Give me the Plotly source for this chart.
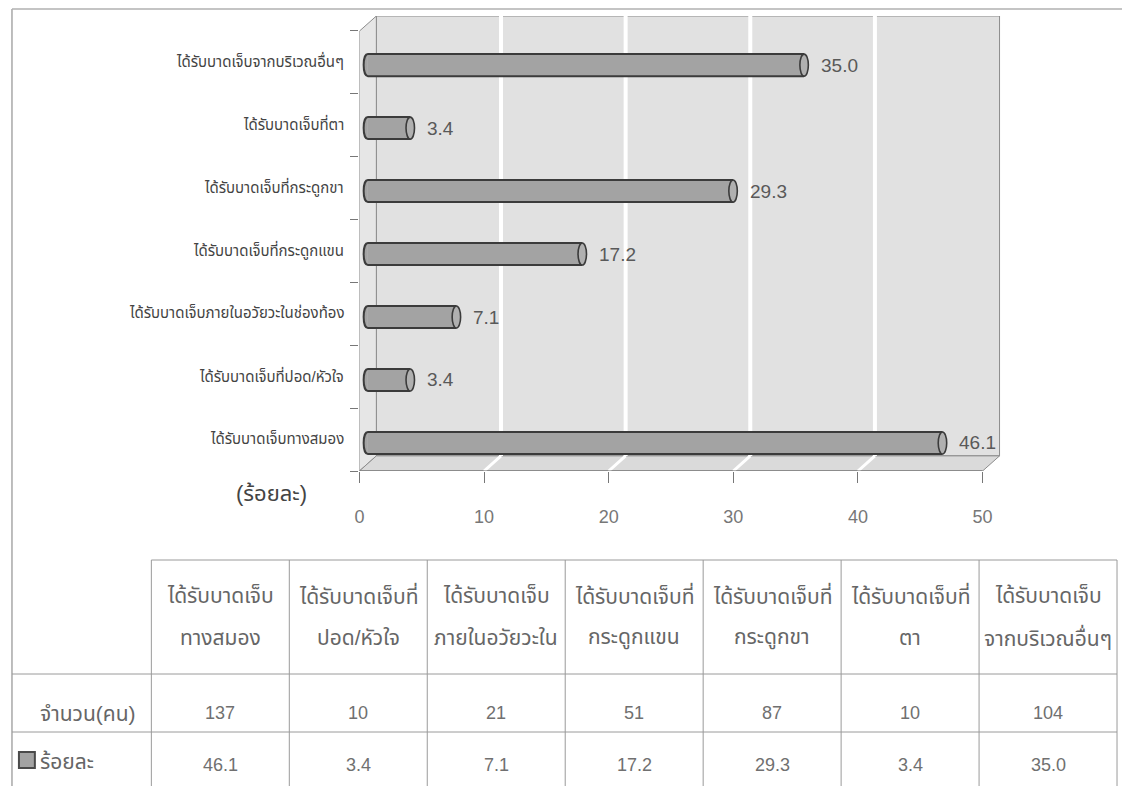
import plotly.graph_objects as go

# ---- data -------------------------------------------------------------
categories = [
    "ได้รับบาดเจ็บทางสมอง",
    "ได้รับบาดเจ็บที่ปอด/หัวใจ",
    "ได้รับบาดเจ็บภายในอวัยวะในช่องท้อง",
    "ได้รับบาดเจ็บที่กระดูกแขน",
    "ได้รับบาดเจ็บที่กระดูกขา",
    "ได้รับบาดเจ็บที่ตา",
    "ได้รับบาดเจ็บจากบริเวณอื่นๆ",
]
percent = [46.1, 3.4, 7.1, 17.2, 29.3, 3.4, 35.0]
counts = [137, 10, 21, 51, 87, 10, 104]
header_line1 = ["ได้รับบาดเจ็บ", "ได้รับบาดเจ็บที่", "ได้รับบาดเจ็บ", "ได้รับบาดเจ็บที่",
                "ได้รับบาดเจ็บที่", "ได้รับบาดเจ็บที่", "ได้รับบาดเจ็บ"]
header_line2 = ["ทางสมอง", "ปอด/หัวใจ", "ภายในอวัยวะใน", "กระดูกแขน",
                "กระดูกขา", "ตา", "จากบริเวณอื่นๆ"]
x_ticks = [0, 10, 20, 30, 40, 50]
row_labels = ["จำนวน(คน)", "ร้อยละ"]
unit_label = "(ร้อยละ)"

# ---- styling / geometry ----------------------------------------------
W, H = 1122, 786
FONT = "Liberation Sans, Arial, Noto Sans Thai, Tahoma, sans-serif"
BAR_FILL = "#a3a3a3"
BAR_EDGE = "#3b3b3b"
CAP_FILL = "#b0b0b0"
WALL = "#e1e1e1"
SIDE = "#e6e6e6"
FLOOR_C = "#dadada"
EDGE = "#8c8c8c"

DX, DY = 0.68, 0.12          # half depth of the 3-D box (value units, category units)
FLOOR, CEIL = -0.325, 6.66   # floor / ceiling of the box on the bar plane
XMAX = 50
HALF_H = 0.175               # half thickness of a cylinder
CAP_A = 0.34                 # half width of the end ellipses

# plot area in pixels
PL, PR, PT, PB = 356, 1001, 16, 471


def px(x):
    return x / W


def py(y):
    return 1 - y / H


idx = list(range(len(categories)))

fig = go.Figure()
fig.add_trace(go.Bar(
    x=percent, y=idx, orientation="h", width=2 * HALF_H,
    marker=dict(color=BAR_FILL, line=dict(width=0)),
    hoverinfo="skip", showlegend=False,
))

shapes = []
# back wall
shapes.append(dict(type="rect", xref="x", yref="y", layer="below",
                   x0=DX, x1=XMAX + DX, y0=FLOOR + DY, y1=CEIL + DY,
                   fillcolor=WALL, line=dict(color=EDGE, width=1)))
# side wall
shapes.append(dict(type="path", xref="x", yref="y", layer="below",
                   path=f"M {-DX},{FLOOR - DY} L {-DX},{CEIL - DY} L {DX},{CEIL + DY} L {DX},{FLOOR + DY} Z",
                   fillcolor=SIDE, line=dict(color=EDGE, width=1)))
# floor
shapes.append(dict(type="path", xref="x", yref="y", layer="below",
                   path=(f"M {-DX},{FLOOR - DY} L {XMAX - DX},{FLOOR - DY} "
                         f"L {XMAX + DX},{FLOOR + DY} L {DX},{FLOOR + DY} Z"),
                   fillcolor=FLOOR_C, line=dict(color=EDGE, width=1)))
# white grid lines on back wall and floor
for t in x_ticks[1:-1]:
    shapes.append(dict(type="line", xref="x", yref="y", layer="below",
                       x0=t + DX, x1=t + DX, y0=FLOOR + DY, y1=CEIL + DY,
                       line=dict(color="white", width=4)))
    shapes.append(dict(type="line", xref="x", yref="y", layer="below",
                       x0=t - DX, x1=t + DX, y0=FLOOR - DY, y1=FLOOR + DY,
                       line=dict(color="white", width=3)))
# front floor edge (value axis line)
shapes.append(dict(type="line", xref="x", yref="y", layer="below",
                   x0=-DX, x1=XMAX - DX, y0=FLOOR - DY, y1=FLOOR - DY,
                   line=dict(color="#666666", width=1.2)))

# cylinders: rounded left end, outline, elliptical right cap
k = 4.0 / 3.0 * CAP_A
for i, v in zip(idx, percent):
    top, bot = i + HALF_H, i - HALF_H
    shapes.append(dict(type="path", xref="x", yref="y", layer="above",
                       path=f"M 0,{top} C {-k},{top} {-k},{bot} 0,{bot} Z",
                       fillcolor=BAR_FILL, line=dict(width=0)))
    shapes.append(dict(type="path", xref="x", yref="y", layer="above",
                       path=f"M {v},{top} L 0,{top} C {-k},{top} {-k},{bot} 0,{bot} L {v},{bot}",
                       fillcolor="rgba(0,0,0,0)", line=dict(color=BAR_EDGE, width=2)))
    shapes.append(dict(type="circle", xref="x", yref="y", layer="above",
                       x0=v - CAP_A, x1=v + CAP_A, y0=bot, y1=top,
                       fillcolor=CAP_FILL, line=dict(color=BAR_EDGE, width=1.6)))

annotations = []
LABEL_X = 343  # right edge of the category labels (px)
for i, v, name in zip(idx, percent, categories):
    annotations.append(dict(xref="x", yref="y", x=v + 1.2, y=i, text=f"{v:.1f}",
                            showarrow=False, xanchor="left", yanchor="middle",
                            font=dict(family=FONT, size=19, color="#595959")))
    annotations.append(dict(xref="paper", yref="y", x=px(LABEL_X), y=i + 0.07, text=name,
                            showarrow=False, xanchor="right", yanchor="middle",
                            font=dict(family=FONT, size=15, color="#444444")))

annotations.append(dict(xref="paper", yref="paper", x=px(268), y=py(493), text=unit_label,
                        showarrow=False, xanchor="center", yanchor="middle",
                        font=dict(family=FONT, size=22, color="#444444")))

# ---- data table under the chart ---------------------------------------
COL0_L, COL0_R, TBL_R = 7, 147, 1117
col_w = (TBL_R - COL0_R) / len(categories)
col_edges = [COL0_R + c * col_w for c in range(len(categories) + 1)]
HDR_T, ROW1_T, ROW2_T, TBL_B = 560, 674, 732, 790
LINE = dict(color="#9a9a9a", width=1)

# outer frame (left and top)
shapes.append(dict(type="line", xref="paper", yref="paper",
                   x0=px(7), x1=px(7), y0=py(9), y1=py(H + 5), line=dict(color="#a8a8a8", width=1.5)))
shapes.append(dict(type="line", xref="paper", yref="paper",
                   x0=px(7), x1=px(W + 5), y0=py(9), y1=py(9), line=dict(color="#b0b0b0", width=1.5)))

shapes.append(dict(type="line", xref="paper", yref="paper",
                   x0=px(COL0_R), x1=px(TBL_R), y0=py(HDR_T), y1=py(HDR_T), line=LINE))
for yy in (ROW1_T, ROW2_T):
    shapes.append(dict(type="line", xref="paper", yref="paper",
                       x0=px(COL0_L), x1=px(TBL_R), y0=py(yy), y1=py(yy), line=LINE))
for xx in col_edges:
    shapes.append(dict(type="line", xref="paper", yref="paper",
                       x0=px(xx), x1=px(xx), y0=py(HDR_T), y1=py(TBL_B), line=LINE))

THAI_TBL = dict(family=FONT, size=21, color="#666666")
NUM_TBL = dict(family=FONT, size=18, color="#707070")
for c in range(len(categories)):
    cx = (col_edges[c] + col_edges[c + 1]) / 2
    annotations.append(dict(xref="paper", yref="paper", x=px(cx), y=py(595), text=header_line1[c],
                            showarrow=False, xanchor="center", yanchor="middle", font=THAI_TBL))
    annotations.append(dict(xref="paper", yref="paper", x=px(cx), y=py(637), text=header_line2[c],
                            showarrow=False, xanchor="center", yanchor="middle", font=THAI_TBL))
    annotations.append(dict(xref="paper", yref="paper", x=px(cx), y=py(713), text=str(counts[c]),
                            showarrow=False, xanchor="center", yanchor="middle", font=NUM_TBL))
    annotations.append(dict(xref="paper", yref="paper", x=px(cx), y=py(765), text=f"{percent[c]:.1f}",
                            showarrow=False, xanchor="center", yanchor="middle", font=NUM_TBL))

annotations.append(dict(xref="paper", yref="paper", x=px(134), y=py(713), text=row_labels[0],
                        showarrow=False, xanchor="right", yanchor="middle", font=THAI_TBL))
annotations.append(dict(xref="paper", yref="paper", x=px(33), y=py(761), text=row_labels[1],
                        showarrow=False, xanchor="left", yanchor="middle", font=THAI_TBL))
# legend key for the percent series
shapes.append(dict(type="rect", xref="paper", yref="paper",
                   x0=px(14), x1=px(30), y0=py(768), y1=py(752),
                   fillcolor=BAR_FILL, line=dict(color="#4a4a4a", width=2)))

fig.update_layout(
    width=W, height=H,
    margin=dict(l=0, r=0, t=0, b=0),
    paper_bgcolor="white", plot_bgcolor="rgba(0,0,0,0)",
    showlegend=False,
    xaxis=dict(
        domain=[px(PL), px(PR)],
        range=[-DX, XMAX + DX + 0.16],
        tickvals=[t - DX for t in x_ticks], ticktext=[str(t) for t in x_ticks],
        ticks="outside", ticklen=11, tickcolor="#777777", tickwidth=1,
        ticklabelstandoff=18,
        tickfont=dict(family=FONT, size=18, color="#777777"),
        showgrid=False, zeroline=False, showline=False, fixedrange=True,
    ),
    yaxis=dict(
        domain=[py(PB), py(PT)],
        range=[FLOOR - DY, CEIL + DY],
        tickvals=[FLOOR - DY + n for n in range(len(categories) + 1)],
        ticks="outside", ticklen=8, tickcolor="#777777", tickwidth=1,
        showticklabels=False,
        showgrid=False, zeroline=False, showline=False, fixedrange=True,
    ),
    shapes=shapes,
    annotations=annotations,
)

fig.write_html("out.html")
